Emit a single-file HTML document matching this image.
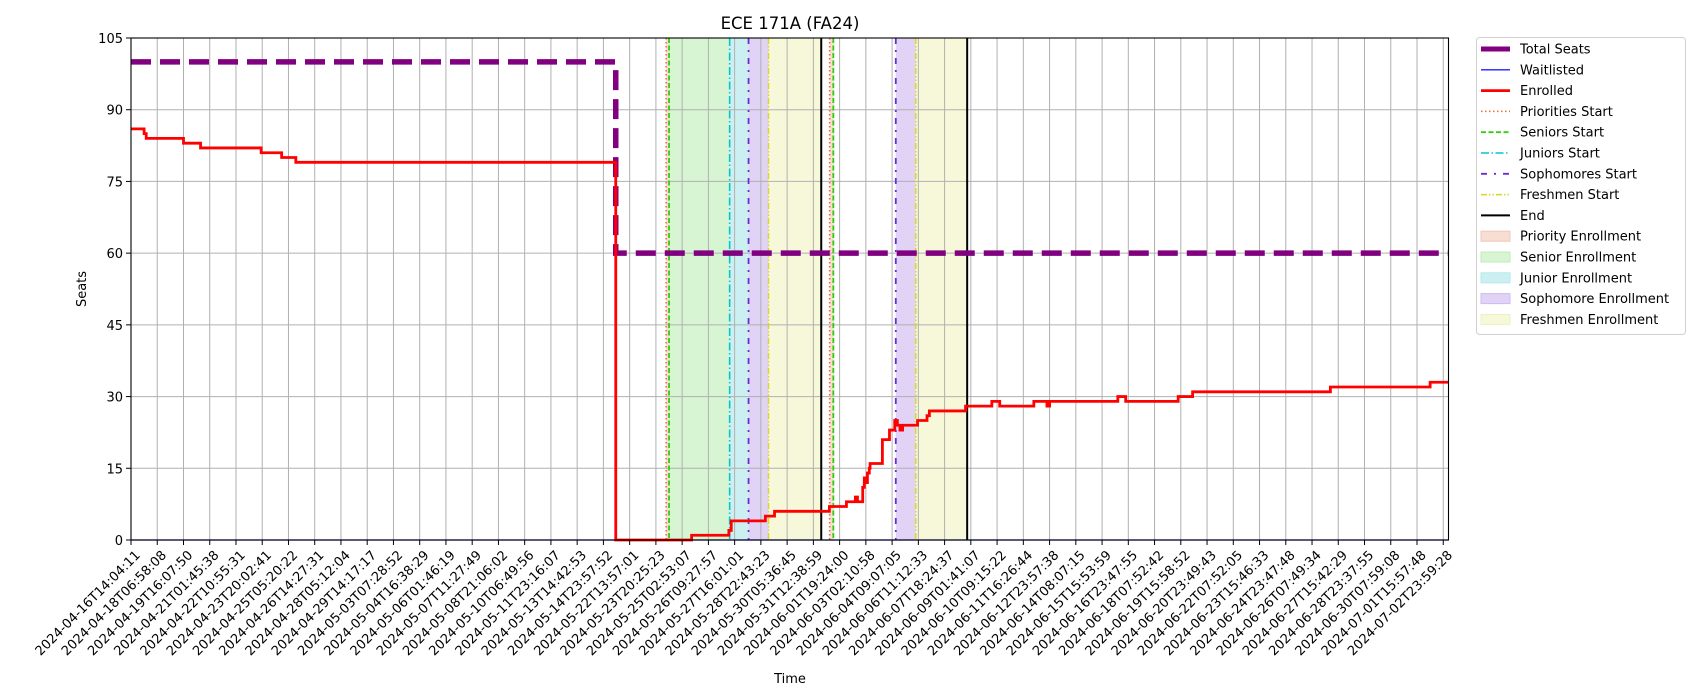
<!DOCTYPE html>
<html><head><meta charset="utf-8"><style>
html,body{margin:0;padding:0;background:#fff;}
svg{display:block;font-family:"DejaVu Sans","Liberation Sans",sans-serif;}
</style></head><body>
<svg id="chart" width="1700" height="700" viewBox="0 0 1700 700" xmlns="http://www.w3.org/2000/svg">
<text x="790" y="29" font-size="16.5" text-anchor="middle">ECE 171A (FA24)</text>
<g id="plot"></g>
<text transform="translate(86,289) rotate(-90)" font-size="13" text-anchor="middle">Seats</text>
<text x="790" y="683" font-size="13" text-anchor="middle">Time</text>
<g id="legend"></g>
</svg>
<script>
const tickLabels=["2024-04-16T14:04:11","2024-04-18T06:58:08","2024-04-19T16:07:50","2024-04-21T01:45:38","2024-04-22T10:55:31","2024-04-23T20:02:41","2024-04-25T05:20:22","2024-04-26T14:27:31","2024-04-28T05:12:04","2024-04-29T14:17:17","2024-05-03T07:28:52","2024-05-04T16:38:29","2024-05-06T01:46:19","2024-05-07T11:27:49","2024-05-08T21:06:02","2024-05-10T06:49:56","2024-05-11T23:16:07","2024-05-13T14:42:53","2024-05-14T23:57:52","2024-05-22T13:57:01","2024-05-23T20:25:23","2024-05-25T02:53:07","2024-05-26T09:27:57","2024-05-27T16:01:01","2024-05-28T22:43:23","2024-05-30T05:36:45","2024-05-31T12:38:59","2024-06-01T19:24:00","2024-06-03T02:10:58","2024-06-04T09:07:05","2024-06-06T11:12:33","2024-06-07T18:24:37","2024-06-09T01:41:07","2024-06-10T09:15:22","2024-06-11T16:26:44","2024-06-12T23:57:38","2024-06-14T08:07:15","2024-06-15T15:53:59","2024-06-16T23:47:55","2024-06-18T07:52:42","2024-06-19T15:58:52","2024-06-20T23:49:43","2024-06-22T07:52:05","2024-06-23T15:46:33","2024-06-24T23:47:48","2024-06-26T07:49:34","2024-06-27T15:42:29","2024-06-28T23:37:55","2024-06-30T07:59:08","2024-07-01T15:57:48","2024-07-02T23:59:28"];
const yTicks=[0,15,30,45,60,75,90,105];
// enrolled step series (x in tick-index units)
const enrolledX=[0,0.5,0.58,2.0,2.65,4.96,5.74,6.28,18.47,21.36,22.78,22.87,24.17,24.52,26.61,27.26,27.6,27.68,27.88,27.94,28.0,28.06,28.13,28.16,28.63,28.9,29.1,29.2,29.3,29.4,29.97,30.33,30.42,31.8,32.8,33.1,34.4,34.9,35.0,37.6,37.9,39.9,40.45,45.7,49.5,50.2];
const enrolledY=[86,85,84,83,82,81,80,79,0,1,2,4,5,6,7,8,9,8,11,13,12,14,15,16,21,23,25,24,23,24,25,26,27,28,29,28,29,28,29,30,29,30,31,32,33,33];
const seatsX=[0,18.47,50.2];
const seatsY=[100,60,60];
const waitX=[0,50.2];
const waitY=[0,0];
const bandStart=[20.39,26.62,20.5,26.76,22.81,23.53,29.14,24.29,29.9];
const bandEnd=[20.5,26.76,22.81,26.8,23.53,24.29,29.9,26.3,31.86];
const bandKind=["priority","priority","senior","senior","junior","sophomore","sophomore","freshmen","freshmen"];
const lineX=[20.39,26.62,20.5,26.76,22.81,23.53,29.14,24.29,29.9,26.3,31.86];
const lineKind=["priorities","priorities","seniors","seniors","juniors","sophomores","sophomores","freshmen","freshmen","end","end"];

const L=131,R=1448.5,T=38,B=540,XMAX=50.2,YMAX=105;
const sx=v=>L+(R-L)*v/XMAX, sy=v=>B-(B-T)*v/YMAX;
const NS="http://www.w3.org/2000/svg";
function mk(tag,attrs,parent){const e=document.createElementNS(NS,tag);for(const k in attrs)e.setAttribute(k,attrs[k]);parent.appendChild(e);return e;}
const plot=document.getElementById('plot');
const bandFill={priority:"#f8ddd2",senior:"#d8f5d3",junior:"#ccf0f2",sophomore:"#e0d3f6",freshmen:"#f7f8da"};
mk('rect',{x:L,y:T,width:R-L,height:B-T,fill:"#fff"},plot);
for(let i=0;i<bandStart.length;i++){
 const r=mk('rect',{x:sx(bandStart[i]),y:T,width:sx(bandEnd[i])-sx(bandStart[i]),height:B-T,fill:bandFill[bandKind[i]]},plot);
 
 
}
// grid
for(let i=0;i<tickLabels.length;i++){
 const g=mk('line',{x1:sx(i),x2:sx(i),y1:T,y2:B,stroke:"#b0b0b0","stroke-width":1},plot);
 
 
}
for(const v of yTicks){
 const g=mk('line',{x1:L,x2:R,y1:sy(v),y2:sy(v),stroke:"#b0b0b0","stroke-width":1},plot);
 
 
}
const lineStyle={priorities:{c:"#ee6a2e",d:"1.5,2.5",w:1.5},seniors:{c:"#33cc11",d:"5,2.5",w:1.8},juniors:{c:"#00c6d0",d:"8,2.5,1.5,2.5",w:1.6},sophomores:{c:"#6a2bd8",d:"6,6,2,6",w:1.8},freshmen:{c:"#d8d820",d:"6,2,1.5,2,1.5,2",w:1.5},end:{c:"#000",d:"",w:2}};
for(let i=0;i<lineX.length;i++){
 const s=lineStyle[lineKind[i]];
 const l=mk('line',{x1:sx(lineX[i]),x2:sx(lineX[i]),y1:T,y2:B,stroke:s.c,"stroke-width":s.w},plot);
 if(s.d)l.setAttribute('stroke-dasharray',s.d);
 
 
}
function stepPath(xs,ys){let d=`M${sx(xs[0])},${sy(ys[0])}`;for(let i=1;i<xs.length;i++){d+=`H${sx(xs[i])}V${sy(ys[i])}`;}return d;}
const wl=mk('path',{d:stepPath(waitX,waitY),fill:"none",stroke:"#2020ff","stroke-width":1.3},plot);


const ts=mk('path',{d:stepPath(seatsX,seatsY),fill:"none",stroke:"#800080","stroke-width":5.5,"stroke-dasharray":"20,9"},plot);


const en=mk('path',{d:stepPath(enrolledX,enrolledY),fill:"none",stroke:"#ff0000","stroke-width":2.8},plot);


mk('rect',{x:L,y:T,width:R-L,height:B-T,fill:"none",stroke:"#000","stroke-width":1.1},plot);
// ticks
for(let i=0;i<tickLabels.length;i++){
 mk('line',{x1:sx(i),x2:sx(i),y1:B,y2:B+5,stroke:"#000","stroke-width":1},plot);
 const t=mk('text',{transform:`translate(${sx(i)+3},${B+9}) rotate(-45)`,"text-anchor":"end","font-size":"13","dy":"0.75em"},plot);
 t.textContent=tickLabels[i];
 
 
}
for(const v of yTicks){
 mk('line',{x1:L-5,x2:L,y1:sy(v),y2:sy(v),stroke:"#000","stroke-width":1},plot);
 const t=mk('text',{x:L-8,y:sy(v)+5,"text-anchor":"end","font-size":"13"},plot);
 t.textContent=v;
 
 
}
// legend
const lg=document.getElementById('legend');
mk('rect',{x:1476.5,y:37.5,width:209,height:297,rx:3,fill:"#fff",stroke:"#d0d0d0","stroke-width":1},lg);
const legendNames=["Total Seats","Waitlisted","Enrolled","Priorities Start","Seniors Start","Juniors Start","Sophomores Start","Freshmen Start","End","Priority Enrollment","Senior Enrollment","Junior Enrollment","Sophomore Enrollment","Freshmen Enrollment"];
const handles=[{c:"#800080",w:5,d:""},{c:"#2020ff",w:1.3,d:""},{c:"#ff0000",w:2.8,d:""},{c:"#ee6a2e",w:1.5,d:"1.5,2.5"},{c:"#33cc11",w:1.8,d:"5,2.5"},{c:"#00c6d0",w:1.6,d:"8,2.5,1.5,2.5"},{c:"#6a2bd8",w:1.8,d:"6,7,2,7"},{c:"#d8d820",w:1.5,d:"6,2,1.5,2,1.5,2"},{c:"#000",w:2,d:""},{f:"#f8ddd2",s:"#f0c8b8"},{f:"#d8f5d3",s:"#c0ecb8"},{f:"#ccf0f2",s:"#b5e8ec"},{f:"#e0d3f6",s:"#cdbcf0"},{f:"#f7f8da",s:"#eef0c0"}];
for(let i=0;i<legendNames.length;i++){
 const y=49+i*20.8;
 const h=handles[i];
 if(h.f){mk('rect',{x:1481,y:y-5,width:29,height:10,fill:h.f,stroke:h.s,"stroke-width":1},lg);}
 else{const l=mk('line',{x1:1481,x2:1510,y1:y,y2:y,stroke:h.c,"stroke-width":h.w},lg);if(h.d)l.setAttribute('stroke-dasharray',h.d);}
 const t=mk('text',{x:1520,y:y+4.5,"font-size":"13"},lg);
 t.textContent=legendNames[i];
 
 
}
</script>
</body></html>
